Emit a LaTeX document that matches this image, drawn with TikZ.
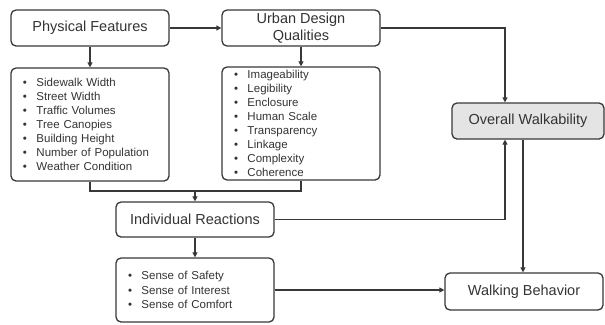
\documentclass[tikz,border=0pt]{standalone}
\usepackage{fontspec}
\setmainfont{Liberation Sans}
\usetikzlibrary{arrows.meta}
\definecolor{ln}{HTML}{383838}
\definecolor{tx}{HTML}{333333}
\definecolor{owfill}{HTML}{E4E4E4}
\newcommand{\bl}{\makebox[13.5bp][l]{\textbullet}}
\tikzset{
  box/.style={draw=ln, line width=1.3bp, rounded corners=5bp, inner sep=0pt, text=tx,
    font=\fontsize{14.5bp}{17bp}\selectfont, align=center},
  listbox/.style={box, font=\fontsize{11.5bp}{14bp}\selectfont, align=left,
    text width=134bp, inner xsep=12bp},
  conn/.style={draw=ln, line width=1.3bp, -{Triangle[length=5bp,width=5bp]}},
  line/.style={draw=ln, line width=1.3bp}
}
\begin{document}
\begin{tikzpicture}[x=1bp,y=-1bp]
\useasboundingbox (0,0) rectangle (605,324);
\node[box, minimum width=158bp, minimum height=36bp] (pf) at (90,28) {Physical Features};
\node[box, minimum width=158bp, minimum height=36bp] (udq) at (301,28) {Urban Design\\Qualities};
\node[listbox, minimum height=113bp] (pfl) at (90,124.5) {\bl Sidewalk Width\\\bl Street Width\\\bl Traffic Volumes\\\bl Tree Canopies\\\bl Building Height\\\bl Number of Population\\\bl Weather Condition};
\node[listbox, minimum height=113bp, font=\fontsize{11.5bp}{13.9bp}\selectfont] (udql) at (301,123.5) {\bl Imageability\\\bl Legibility\\\bl Enclosure\\\bl Human Scale\\\bl Transparency\\\bl Linkage\\\bl Complexity\\\bl Coherence};
\node[box, minimum width=158bp, minimum height=35bp] (ir) at (195,219.5) {Individual Reactions};
\node[listbox, minimum height=64bp, font=\fontsize{11.5bp}{14.5bp}\selectfont] (sen) at (195,290) {\bl Sense of Safety\\\bl Sense of Interest\\\bl Sense of Comfort};
\node[box, fill=owfill, minimum width=152bp, minimum height=36bp] (ow) at (528,121) {Overall Walkability};
\node[box, minimum width=158bp, minimum height=37bp] (wb) at (524,291.5) {Walking Behavior};
\coordinate (mj) at (195,191);
% connectors
\draw[conn, line width=2bp] (pf.east) -- (udq.west);
\draw[conn] (pf.south) -- (pfl.north);
\draw[conn] (udq.south) -- (udql.north);
\draw[line, line width=1.8bp] (pfl.south) |- (mj) -| (udql.south);
\draw[conn] (mj) -- (ir.north);
\draw[conn] (ir.south) -- (sen.north);
\draw[conn] (udq.east) -| ([xshift=-23bp]ow.north);
\draw[conn] (ir.east) -| ([xshift=-23bp]ow.south);
\draw[conn] ([xshift=-5bp]ow.south) -- ([xshift=-5bp]ow.south |- wb.north);
\draw[conn] (sen.east) -- (sen.east -| wb.west);
\end{tikzpicture}
\end{document}
